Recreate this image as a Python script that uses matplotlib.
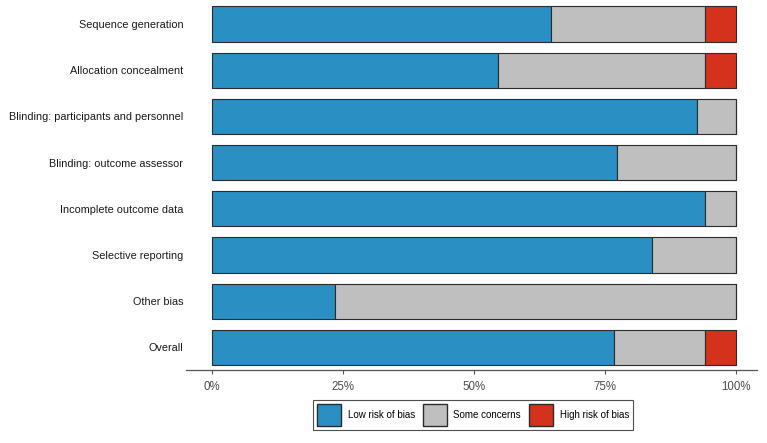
import matplotlib.pyplot as plt
from matplotlib.patches import Patch

plt.rcParams['font.family'] = ['Liberation Sans', 'DejaVu Sans']

domains = ["Sequence generation", "Allocation concealment",
           "Blinding: participants and personnel", "Blinding: outcome assessor",
           "Incomplete outcome data", "Selective reporting", "Other bias", "Overall"]
low = [64.7, 54.5, 92.6, 77.2, 94.1, 83.9, 23.5, 76.7]
some = [29.4, 39.6, 7.4, 22.8, 5.9, 16.1, 76.5, 17.4]
high = [5.9, 5.9, 0.0, 0.0, 0.0, 0.0, 0.0, 5.9]
tick_vals = [0, 25, 50, 75, 100]
tick_labels = ["0%", "25%", "50%", "75%", "100%"]

C_LOW = '#2a8fc3'
C_SOME = '#bfbfc0'
C_HIGH = '#d5321d'
EDGE = '#2b2b2b'

fig = plt.figure(figsize=(7.67, 4.43), dpi=100)
ax = fig.add_axes([186 / 767, 73 / 443, 571 / 767, 370 / 443])

y = list(range(len(domains)))
h = 0.76
left_some = [l for l in low]
left_high = [l + s for l, s in zip(low, some)]
ax.barh(y, low, height=h, color=C_LOW, edgecolor=EDGE, linewidth=0.8)
ax.barh(y, some, left=left_some, height=h, color=C_SOME, edgecolor=EDGE, linewidth=0.8)
ax.barh(y, high, left=left_high, height=h, color=C_HIGH, edgecolor=EDGE, linewidth=0.8)

ax.set_xlim(-5, 104)
ax.set_ylim(7.49, -0.52)
ax.set_yticks(y)
ax.set_yticklabels(domains, fontsize=7.8, color='#1a1a1a')
ax.set_xticks(tick_vals)
ax.set_xticklabels(tick_labels, fontsize=8.3, color='#4d4d4d')

for side in ['top', 'right', 'left']:
    ax.spines[side].set_visible(False)
ax.spines['bottom'].set_color('#555555')
ax.spines['bottom'].set_linewidth(0.9)
ax.tick_params(axis='y', length=0, pad=2)
ax.tick_params(axis='x', length=3, color='#555555', pad=5)

handles = [Patch(facecolor=C_LOW, edgecolor=EDGE, label='Low risk of bias'),
           Patch(facecolor=C_SOME, edgecolor=EDGE, label='Some concerns'),
           Patch(facecolor=C_HIGH, edgecolor=EDGE, label='High risk of bias')]
leg = fig.legend(handles=handles, loc='center', ncol=3,
                 bbox_to_anchor=(473 / 767, 1 - 415 / 443),
                 fontsize=7, frameon=True, fancybox=False,
                 handlelength=2.5, handleheight=3.0, handletextpad=0.66,
                 columnspacing=0.8, borderpad=0.4)
leg.get_frame().set_edgecolor('#222222')
leg.get_frame().set_linewidth(0.8)

fig.savefig('out.png', dpi=100)
